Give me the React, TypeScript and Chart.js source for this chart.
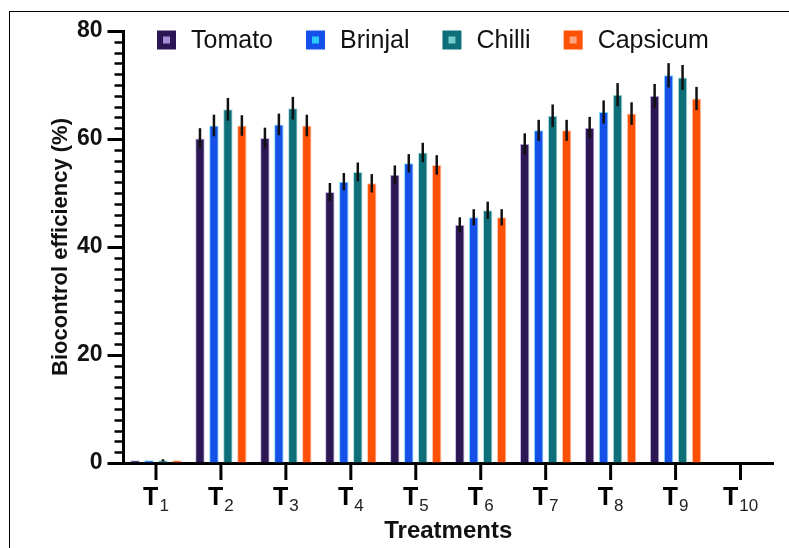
import React, { useEffect, useRef } from "react";
import { Chart, registerables } from "chart.js";

Chart.register(...registerables);

// ---- data ----
const treatmentSubs = ["1", "2", "3", "4", "5", "6", "7", "8", "9", "10"];
const treatmentPrefix = "T";
const seriesNames = ["Tomato", "Brinjal", "Chilli", "Capsicum"];

const tomato = [0.5, 60.1, 60.2, 50.2, 53.4, 44.1, 59.1, 62.1, 68.0, null];
const brinjal = [0.5, 62.5, 62.7, 52.1, 55.5, 45.5, 61.6, 65.0, 71.8, null];
const chilli = [0.5, 65.5, 65.7, 53.9, 57.5, 46.8, 64.3, 68.2, 71.4, null];
const capsicum = [0.5, 62.5, 62.5, 51.8, 55.2, 45.5, 61.6, 64.7, 67.5, null];

const tomatoErr = [0, 1.9, 1.9, 1.65, 1.7, 1.4, 1.95, 2.0, 2.2, 0];
const brinjalErr = [0, 2.0, 2.0, 1.6, 1.7, 1.5, 1.95, 2.15, 2.25, 0];
const chilliErr = [0.2, 2.1, 2.1, 1.75, 1.8, 1.6, 2.1, 2.15, 2.3, 0];
const capsicumErr = [0, 1.9, 2.0, 1.7, 1.8, 1.5, 1.95, 2.1, 2.15, 0];

const yMin = 0;
const yMax = 80;
const yMajorStep = 20;
const yMinorStep = 2;

const yTitle = "Biocontrol efficiency (%)";
const xTitle = "Treatments";

// ---- styles ----
const FONT = "'Liberation Sans', Arial, sans-serif";
const fills = ["#2C1653", "#1550E8", "#0F6F79", "#FF5106"];
const lights = ["#A48ED8", "#2AC8F6", "#76CACA", "#FFA27E"];

const values = [tomato, brinjal, chilli, capsicum];
const errors = [tomatoErr, brinjalErr, chilliErr, capsicumErr];

const errorBarPlugin = {
  id: "errorBars",
  afterDatasetsDraw(chart: any) {
    const ctx = chart.ctx;
    const ys = chart.scales.y;
    ctx.save();
    ctx.strokeStyle = "#111";
    ctx.lineWidth = 2.5;
    chart.data.datasets.forEach((ds: any, i: number) => {
      const meta = chart.getDatasetMeta(i);
      meta.data.forEach((el: any, j: number) => {
        const v = ds.data[j];
        const e = errors[i][j];
        if (v == null || !e) return;
        ctx.beginPath();
        ctx.moveTo(el.x, ys.getPixelForValue(v + e));
        ctx.lineTo(el.x, ys.getPixelForValue(v - e));
        ctx.stroke();
      });
    });
    ctx.restore();
  },
};

const axisDecorPlugin = {
  id: "axisDecor",
  afterDraw(chart: any) {
    const ctx = chart.ctx;
    const { left, bottom } = chart.chartArea;
    const ys = chart.scales.y;
    const xs = chart.scales.x;
    ctx.save();
    ctx.strokeStyle = "#000";
    // y ticks
    for (let v = yMin; v <= yMax + 1e-9; v += yMinorStep) {
      const major = Math.abs(v % yMajorStep) < 1e-9;
      const y = Math.round(ys.getPixelForValue(v)) + 0.5;
      ctx.lineWidth = major ? 3 : 2.5;
      ctx.beginPath();
      ctx.moveTo(left - (major ? 16 : 9), y);
      ctx.lineTo(left, y);
      ctx.stroke();
    }
    // x ticks and labels
    ctx.lineWidth = 3;
    treatmentSubs.forEach((sub, i) => {
      const x = xs.getPixelForTick(i);
      ctx.beginPath();
      ctx.moveTo(x, bottom);
      ctx.lineTo(x, bottom + 17);
      ctx.stroke();
      ctx.fillStyle = "#000";
      ctx.textBaseline = "alphabetic";
      ctx.textAlign = "left";
      ctx.font = `bold 25px ${FONT}`;
      const wT = ctx.measureText(treatmentPrefix).width;
      ctx.font = `17px ${FONT}`;
      const wS = ctx.measureText(sub).width;
      const start = x - (wT + 1 + wS) / 2;
      ctx.font = `bold 25px ${FONT}`;
      ctx.fillText(treatmentPrefix, start, bottom + 42);
      ctx.font = `17px ${FONT}`;
      ctx.fillStyle = "#222";
      ctx.fillText(sub, start + wT + 1, bottom + 48);
    });
    // legend
    ctx.font = `25px ${FONT}`;
    ctx.textBaseline = "middle";
    const box = 19;
    let lx = left + 33.5;
    const ly = chart.chartArea.top + 9;
    seriesNames.forEach((name, i) => {
      ctx.fillStyle = fills[i];
      ctx.fillRect(lx, ly - box / 2, box, box);
      ctx.fillStyle = lights[i];
      ctx.fillRect(lx + box / 2 - 3.5, ly - 3.5, 7, 7);
      ctx.fillStyle = "#111";
      ctx.fillText(name, lx + box + 15, ly + 1);
      const w = ctx.measureText(name).width;
      lx += box + 15 + w + 33;
    });
    ctx.restore();
  },
};

export default function App() {
  const ref = useRef<HTMLCanvasElement | null>(null);

  useEffect(() => {
    if (!ref.current) return;
    const chart = new Chart(ref.current, {
      type: "bar",
      data: {
        labels: treatmentSubs.map((s) => treatmentPrefix + s),
        datasets: seriesNames.map((name, i) => ({
          label: name,
          data: values[i] as any,
          backgroundColor: fills[i],
          borderColor: lights[i] + "99",
          borderWidth: 1,
          categoryPercentage: 0.86,
          barPercentage: 0.68,
        })),
      },
      options: {
        responsive: false,
        animation: false,
        events: [],
        layout: { padding: { top: 31, right: 16, left: 0, bottom: 0 } },
        plugins: {
          legend: { display: false },
          tooltip: { enabled: false },
        },
        scales: {
          x: {
            grid: { display: false, drawTicks: false },
            border: { display: true, color: "#000", width: 3 },
            ticks: { display: false },
            title: {
              display: true,
              text: xTitle,
              color: "#111",
              font: { family: FONT, size: 24, weight: "bold" },
              padding: { top: 0, bottom: 2.6 },
            },
            afterFit(scale: any) {
              scale.height = 85;
            },
          },
          y: {
            min: yMin,
            max: yMax,
            grid: { color: "rgba(0,0,0,0)", drawOnChartArea: false, drawTicks: true, tickLength: 16 },
            border: { display: true, color: "#000", width: 3 },
            ticks: {
              stepSize: yMajorStep,
              color: "#111",
              padding: 5,
              font: { family: FONT, size: 23, weight: "bold" },
            },
            title: {
              display: true,
              text: yTitle,
              color: "#111",
              font: { family: FONT, size: 22, weight: "bold" },
              padding: { top: 47.8, bottom: 0 },
            },
            afterFit(scale: any) {
              scale.width = 123.5;
            },
          },
        },
      },
      plugins: [errorBarPlugin, axisDecorPlugin],
    });
    return () => chart.destroy();
  }, []);

  return (
    <div
      style={{
        position: "fixed",
        left: 0,
        top: 0,
        width: 789,
        height: 548,
        overflow: "hidden",
        background: "#fff",
      }}
    >
      <canvas ref={ref} width={789} height={548} style={{ display: "block" }} />
      <div
        style={{
          position: "absolute",
          left: 9,
          top: 11,
          width: 800,
          height: 600,
          borderLeft: "1px solid #000",
          borderTop: "1px solid #000",
          pointerEvents: "none",
        }}
      />
    </div>
  );
}
